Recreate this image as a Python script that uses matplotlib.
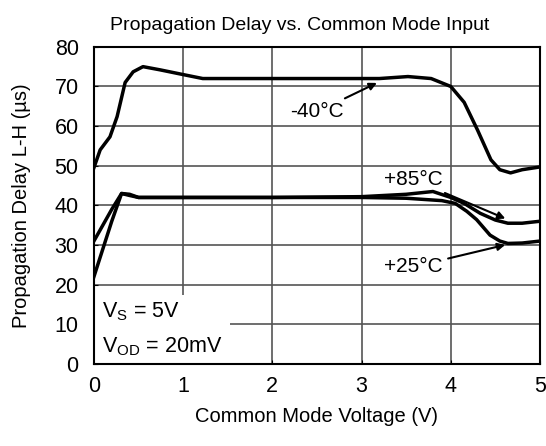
import numpy as np
import matplotlib.pyplot as plt
from matplotlib.patches import Rectangle

plt.rcParams['font.family'] = ['Liberation Sans', 'DejaVu Sans']

# -40C curve
x_m40 = [0, 0.07, 0.18, 0.26, 0.35, 0.44, 0.55, 0.74, 1.0, 1.22, 2.0, 3.0, 3.2, 3.52, 3.78, 4.0, 4.15, 4.3, 4.45, 4.55, 4.67, 4.8, 5.0]
y_m40 = [49.5, 54, 57.3, 62.4, 71, 73.7, 75, 74.2, 73, 72, 72, 72, 72, 72.5, 72, 70, 66, 59, 51.5, 49, 48.2, 49, 49.7]

# +85C curve
x_p85 = [0, 0.1, 0.2, 0.31, 0.4, 0.5, 1.0, 2.0, 3.0, 3.5, 3.8, 4.0, 4.15, 4.33, 4.5, 4.64, 4.8, 5.0]
y_p85 = [31, 35, 39, 43, 42.8, 42, 42, 42, 42.2, 42.8, 43.5, 42, 40.5, 38, 36.3, 35.5, 35.5, 36]

# +25C curve
x_p25 = [0, 0.1, 0.2, 0.31, 0.4, 0.5, 1.0, 2.0, 3.0, 3.5, 3.9, 4.05, 4.18, 4.29, 4.44, 4.55, 4.64, 4.8, 5.0]
y_p25 = [22, 29, 36, 43, 42.5, 42, 42, 42, 42, 41.8, 41.2, 40.5, 38.5, 36.4, 32.5, 31, 30.4, 30.5, 31]

fig = plt.figure(figsize=(5.46, 4.46), dpi=100)
ax = fig.add_axes([0.172, 0.184, 0.817, 0.711])

ax.plot(x_m40, y_m40, color='black', lw=2.5, zorder=3)
ax.plot(x_p85, y_p85, color='black', lw=2.5, zorder=3)
ax.plot(x_p25, y_p25, color='black', lw=2.5, zorder=3)

ax.set_xlim(0, 5)
ax.set_ylim(0, 80)
ax.set_xticks(range(0, 6))
ax.set_yticks(range(0, 81, 10))
ax.grid(True, color='#555555', lw=1.2)
ax.set_axisbelow(True)
ax.tick_params(direction='in', length=3, labelsize=15.5)
ax.tick_params(axis='x', pad=9)
ax.tick_params(axis='y', pad=11)
for s in ax.spines.values():
    s.set_linewidth(1.5)

ax.set_title('Propagation Delay vs. Common Mode Input', fontsize=14, pad=12, x=0.462)
ax.set_xlabel('Common Mode Voltage (V)', fontsize=14.5, labelpad=7)
ax.set_ylabel('Propagation Delay L-H (\u00b5s)', fontsize=14.5, labelpad=17)

# white box behind the conditions text
ax.add_patch(Rectangle((0, 0), 1.53, 17.4, facecolor='white', edgecolor='none', zorder=2))
ax.text(0.09, 13.2, r'V$_\mathregular{S}$ = 5V', fontsize=15.5, va='center', zorder=4)
ax.text(0.09, 4.3, r'V$_\mathregular{OD}$ = 20mV', fontsize=15.5, va='center', zorder=4)

arr = dict(arrowstyle='-|>', color='black', lw=1.5, mutation_scale=11)
ax.annotate('-40\u00b0C', xy=(3.2, 71.2), xytext=(2.5, 63.6), fontsize=15,
            ha='center', va='center', arrowprops=arr)
ax.annotate('+85\u00b0C', xy=(4.64, 36.4), xytext=(3.58, 46.5), fontsize=15,
            ha='center', va='center', arrowprops=arr)
ax.annotate('+25\u00b0C', xy=(4.64, 30.2), xytext=(3.58, 24.5), fontsize=15,
            ha='center', va='center', arrowprops=arr)

fig.savefig('out.png', dpi=100)
